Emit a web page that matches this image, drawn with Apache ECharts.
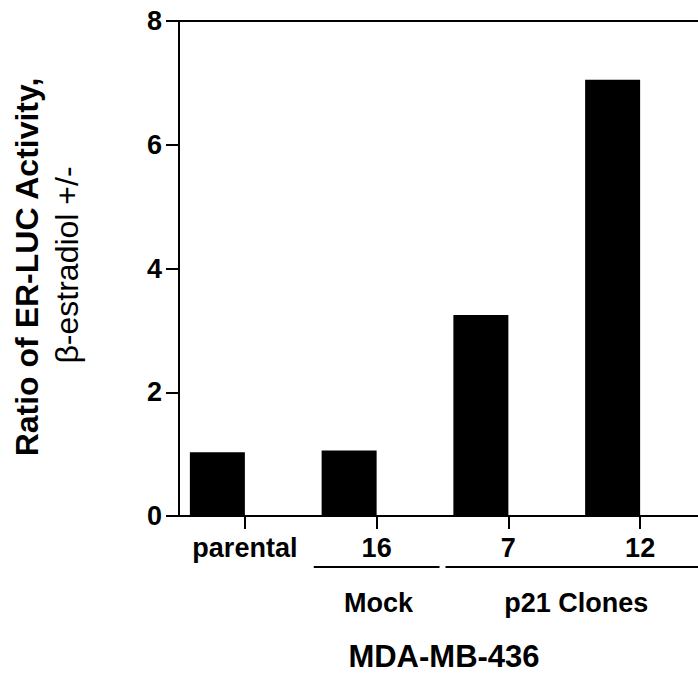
<!DOCTYPE html>
<html>
<head>
<meta charset="utf-8">
<script src="https://cdn.jsdelivr.net/npm/echarts@6/dist/echarts.min.js"></script>
<style>
html,body{margin:0;padding:0;background:#fff;}
#chart{width:698px;height:677px;}
</style>
</head>
<body>
<div id="chart"></div>
<script>
var categories = ['parental', '16', '7', '12'];
var ratioValues = [1.03, 1.06, 3.25, 7.05];
var yTicks = [0, 2, 4, 6, 8];
var groups = [
  { name: 'Mock', from: 1, to: 1 },
  { name: 'p21 Clones', from: 2, to: 3 }
];
var yTitleLine1 = 'Ratio of ER-LUC Activity,';
var yTitleLine2 = 'β-estradiol +/-';
var xTitle = 'MDA-MB-436';

var FONT = '"Liberation Sans", Arial, Helvetica, sans-serif';
var chart = echarts.init(document.getElementById('chart'), null, { renderer: 'svg' });

var option = {
  backgroundColor: '#fff',
  animation: false,
  grid: {
    left: 179, top: 21, bottom: 161, width: 527,
    outerBoundsMode: 'none', containLabel: false,
    show: true, borderColor: '#000', borderWidth: 2, backgroundColor: 'transparent'
  },
  xAxis: {
    type: 'category',
    data: categories,
    axisLine: { show: true, lineStyle: { color: '#000', width: 2 } },
    axisTick: { show: true, alignWithLabel: true, interval: 0, length: 13, lineStyle: { color: '#000', width: 2 } },
    axisLabel: { interval: 0, color: '#000', fontFamily: FONT, fontWeight: 'bold', fontSize: 27, margin: 18 },
    splitLine: { show: false }
  },
  yAxis: {
    type: 'value',
    min: yTicks[0], max: yTicks[yTicks.length - 1], interval: 2,
    axisLine: { show: true, lineStyle: { color: '#000', width: 2 } },
    axisTick: { show: true, length: 13, lineStyle: { color: '#000', width: 2 } },
    axisLabel: { color: '#000', fontFamily: FONT, fontWeight: 'bold', fontSize: 27, margin: 17 },
    splitLine: { show: false }
  },
  series: [
    {
      type: 'bar', data: ratioValues, barWidth: 55, barGap: '0%',
      itemStyle: { color: '#000' }
    },
    {
      type: 'bar', data: categories.map(function () { return '-'; }), barWidth: 55, barGap: '0%',
      itemStyle: { color: 'transparent' }
    }
  ]
};
chart.setOption(option);

function buildGraphics() {
  var els = [];
  var pad = 3;
  var half = (chart.convertToPixel({ xAxisIndex: 0 }, categories[1]) - chart.convertToPixel({ xAxisIndex: 0 }, categories[0])) / 2;
  groups.forEach(function (g) {
    var c0 = chart.convertToPixel({ xAxisIndex: 0 }, categories[g.from]);
    var c1 = chart.convertToPixel({ xAxisIndex: 0 }, categories[g.to]);
    var x0 = c0 - half + pad, x1 = c1 + half - pad;
    els.push({
      type: 'line', shape: { x1: x0, y1: 567, x2: x1, y2: 567 },
      style: { stroke: '#000', lineWidth: 2 }
    });
    els.push({
      type: 'text', x: (c0 + c1) / 2 + 2, y: 603,
      style: { text: g.name, fill: '#000', font: 'bold 27px ' + FONT, align: 'center', verticalAlign: 'middle' }
    });
  });
  els.push({
    type: 'text', x: 444, y: 656,
    style: { text: xTitle, fill: '#000', font: 'bold 31px ' + FONT, align: 'center', verticalAlign: 'middle' }
  });
  els.push({
    type: 'text', x: 27, y: 267, rotation: Math.PI / 2,
    style: { text: yTitleLine1, fill: '#000', font: 'bold 32px ' + FONT, align: 'center', verticalAlign: 'middle' }
  });
  els.push({
    type: 'text', x: 67, y: 265, rotation: Math.PI / 2,
    style: { text: yTitleLine2, fill: '#000', font: '32px ' + FONT, align: 'center', verticalAlign: 'middle' }
  });
  chart.setOption({ graphic: els });
}
buildGraphics();
</script>
</body>
</html>
